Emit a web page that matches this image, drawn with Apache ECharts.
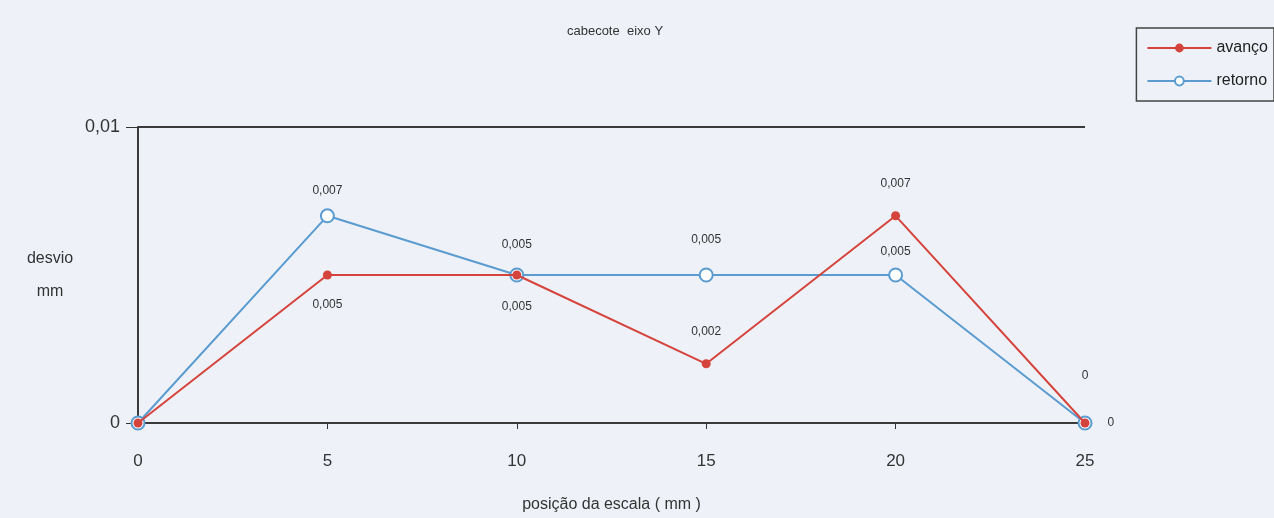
<!DOCTYPE html>
<html>
<head>
<meta charset="utf-8">
<script src="https://cdn.jsdelivr.net/npm/echarts@6/dist/echarts.min.js"></script>
<style>
  html, body { margin: 0; padding: 0; background: #eef2f8; }
  #chart { width: 1274px; height: 518px; }
</style>
</head>
<body>
<div id="chart"></div>
<script>
// positions along the scale (mm)
const positions = [0, 5, 10, 15, 20, 25];
// deviation (mm)
const avanco = [0, 0.005, 0.005, 0.002, 0.007, 0];
const retorno = [0, 0.007, 0.005, 0.005, 0.005, 0];
const xTicks = [0, 5, 10, 15, 20, 25];
const yTicks = [0, 0.01];

const fmt = v => String(v).replace('.', ',');

// label placement per point (first point has no label)
const avancoLabelPos = [null, 'bottom', 'bottom', 'top', 'top', 'right'];
const avancoLabelGap = [0, 19, 21, 22, 22, 18];
const retornoLabelPos = [null, 'top', 'top', 'top', 'top', 'top'];
const retornoLabelGap = [0, 12, 17, 22, 10, 34];

function toData(values, labelPos, labelGap) {
  return values.map((v, i) => ({
    value: [positions[i], v],
    label: labelPos[i]
      ? { show: true, position: labelPos[i], distance: labelGap[i] }
      : { show: false }
  }));
}

const chart = echarts.init(document.getElementById('chart'));
chart.setOption({
  backgroundColor: '#eef2f8',
  animation: false,
  title: {
    text: 'cabecote  eixo Y',
    left: 610,
    top: 20,
    textAlign: 'center',
    textStyle: { fontFamily: 'Liberation Sans', fontSize: 13, fontWeight: 'normal', color: '#333' }
  },
  legend: {
    right: 0,
    top: 28,
    orient: 'vertical',
    itemWidth: 64,
    itemHeight: 11,
    itemGap: 17,
    padding: [12, 6, 12, 10],
    borderColor: '#444',
    borderWidth: 1.5,
    textStyle: { fontFamily: 'Liberation Sans', fontSize: 16, color: '#222' },
    data: ['avanço', 'retorno']
  },
  grid: { left: 138, right: 189, top: 127, bottom: 94 },
  xAxis: {
    type: 'value',
    min: 0,
    max: 25,
    interval: 5,
    name: 'posição da escala ( mm )',
    nameLocation: 'middle',
    nameGap: 74,
    nameTextStyle: { fontFamily: 'Liberation Sans', fontSize: 16, color: '#333' },
    axisLine: { lineStyle: { color: '#3a3a3a', width: 2 } },
    axisTick: { show: true, length: 6, lineStyle: { color: '#333' } },
    axisLabel: { fontFamily: 'Liberation Sans', fontSize: 17, color: '#333', margin: 30,
      customValues: xTicks },
    splitLine: { show: false }
  },
  yAxis: {
    type: 'value',
    min: 0,
    max: 0.01,
    interval: 0.01,
    name: 'desvio\nmm',
    nameLocation: 'middle',
    nameRotate: 0,
    nameGap: 88,
    nameTextStyle: { fontFamily: 'Liberation Sans', fontSize: 16, color: '#333', lineHeight: 33,
      align: 'center', padding: [0, 0, 40, 0] },
    axisLine: { show: true, lineStyle: { color: '#3a3a3a', width: 2 } },
    axisTick: { show: true, length: 12, lineStyle: { color: '#333' } },
    axisLabel: { fontFamily: 'Liberation Sans', fontSize: 18, color: '#333', margin: 18,
      customValues: yTicks, formatter: v => fmt(v) },
    splitLine: { show: true, lineStyle: { color: '#3a3a3a', width: 2 } }
  },
  series: [
    {
      name: 'avanço',
      type: 'line',
      data: toData(avanco, avancoLabelPos, avancoLabelGap),
      symbol: 'circle',
      symbolSize: 9,
      itemStyle: { color: '#d5443c' },
      lineStyle: { color: '#d5443c', width: 2 },
      label: { fontFamily: 'Liberation Sans', fontSize: 12, color: '#333',
        formatter: p => fmt(p.value[1]) },
      z: 3
    },
    {
      name: 'retorno',
      type: 'line',
      data: toData(retorno, retornoLabelPos, retornoLabelGap),
      symbol: 'emptyCircle',
      symbolSize: 13,
      itemStyle: { color: '#5a9bd0', borderWidth: 2 },
      lineStyle: { color: '#5a9bd0', width: 2 },
      label: { fontFamily: 'Liberation Sans', fontSize: 12, color: '#333',
        formatter: p => fmt(p.value[1]) },
      z: 2
    }
  ]
});
</script>
</body>
</html>
